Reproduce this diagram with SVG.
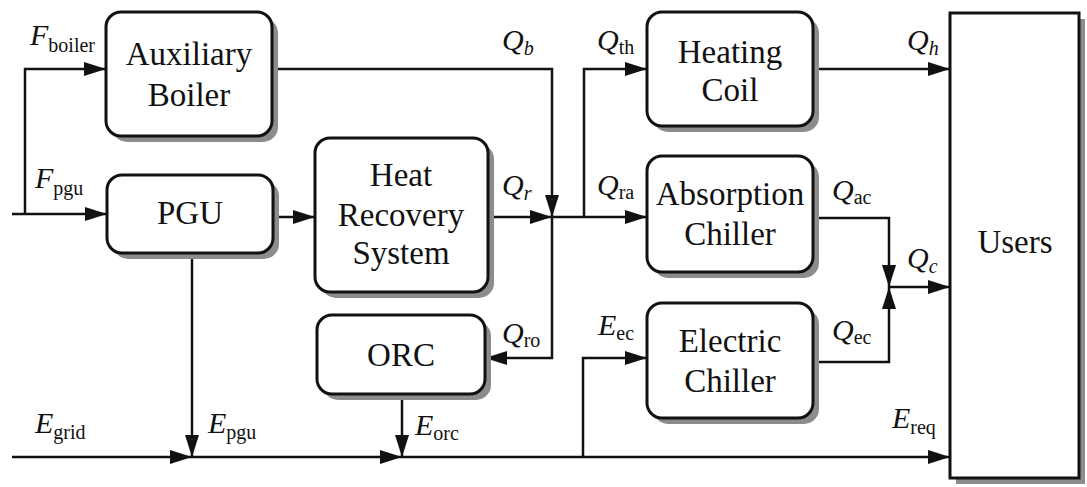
<svg xmlns="http://www.w3.org/2000/svg" width="1087" height="487" viewBox="0 0 1087 487">
<defs>
<marker id="ah" viewBox="0 0 22 14" refX="22" refY="7" markerWidth="22" markerHeight="14" markerUnits="userSpaceOnUse" orient="auto">
<path d="M0,0 L22,7 L0,14 Z" fill="#111"/>
</marker>
</defs>
<rect width="1087" height="487" fill="#fff"/>

<g id="connectors" fill="none" stroke="#111" stroke-width="2.5" marker-end="url(#ah)">
<path d="M12,214 H107"/>
<path d="M25,214 V69 H106"/>
<path d="M273,217 H315"/>
<path d="M272,69 H552 V217"/>
<path d="M488,217 H552"/>
<path d="M552,217 H647"/>
<path d="M584,217 V69 H647"/>
<path d="M552,217 V358 H485"/>
<path d="M813,69 H950"/>
<path d="M813,218 H889 V287"/>
<path d="M813,362 H889 V287"/>
<path d="M889,287 H950"/>
<path d="M192,253 V457"/>
<path d="M402,394 V457"/>
<path d="M12,457 H192"/>
<path d="M192,457 H402"/>
<path d="M402,457 H950"/>
<path d="M583,457 V358 H647"/>
</g>

<g id="boiler">
<rect fill="#8c8c8c" x="112" y="18" width="166" height="124" rx="15"/>
<rect fill="#fff" stroke="#111" stroke-width="3" x="106" y="12" width="166" height="124" rx="15"/>
<text x="189" y="65" style="font-family:'Liberation Serif','Times New Roman',serif;font-size:33px" text-anchor="middle" fill="#111">Auxiliary</text>
<text x="189" y="106" style="font-family:'Liberation Serif','Times New Roman',serif;font-size:33px" text-anchor="middle" fill="#111">Boiler</text>
</g>
<g id="pgu">
<rect fill="#8c8c8c" x="113" y="181" width="166" height="78" rx="15"/>
<rect fill="#fff" stroke="#111" stroke-width="3" x="107" y="175" width="166" height="78" rx="15"/>
<text x="190" y="224" style="font-family:'Liberation Serif','Times New Roman',serif;font-size:33px" text-anchor="middle" fill="#111">PGU</text>
</g>
<g id="hrs">
<rect fill="#8c8c8c" x="321" y="144" width="173" height="154" rx="15"/>
<rect fill="#fff" stroke="#111" stroke-width="3" x="315" y="138" width="173" height="154" rx="15"/>
<text x="401" y="186" style="font-family:'Liberation Serif','Times New Roman',serif;font-size:33px" text-anchor="middle" fill="#111">Heat</text>
<text x="401" y="226" style="font-family:'Liberation Serif','Times New Roman',serif;font-size:33px" text-anchor="middle" fill="#111">Recovery</text>
<text x="401" y="264" style="font-family:'Liberation Serif','Times New Roman',serif;font-size:33px" text-anchor="middle" fill="#111">System</text>
</g>
<g id="orc">
<rect fill="#8c8c8c" x="323" y="321" width="168" height="79" rx="15"/>
<rect fill="#fff" stroke="#111" stroke-width="3" x="317" y="315" width="168" height="79" rx="15"/>
<text x="401" y="366" style="font-family:'Liberation Serif','Times New Roman',serif;font-size:33px" text-anchor="middle" fill="#111">ORC</text>
</g>
<g id="heating">
<rect fill="#8c8c8c" x="653" y="18" width="166" height="114" rx="15"/>
<rect fill="#fff" stroke="#111" stroke-width="3" x="647" y="12" width="166" height="114" rx="15"/>
<text x="730" y="63" style="font-family:'Liberation Serif','Times New Roman',serif;font-size:33px" text-anchor="middle" fill="#111">Heating</text>
<text x="730" y="101" style="font-family:'Liberation Serif','Times New Roman',serif;font-size:33px" text-anchor="middle" fill="#111">Coil</text>
</g>
<g id="absorption">
<rect fill="#8c8c8c" x="653" y="162" width="166" height="116" rx="15"/>
<rect fill="#fff" stroke="#111" stroke-width="3" x="647" y="156" width="166" height="116" rx="15"/>
<text x="730" y="205" style="font-family:'Liberation Serif','Times New Roman',serif;font-size:33px" text-anchor="middle" fill="#111">Absorption</text>
<text x="730" y="245" style="font-family:'Liberation Serif','Times New Roman',serif;font-size:33px" text-anchor="middle" fill="#111">Chiller</text>
</g>
<g id="electric">
<rect fill="#8c8c8c" x="653" y="309" width="166" height="115" rx="15"/>
<rect fill="#fff" stroke="#111" stroke-width="3" x="647" y="303" width="166" height="115" rx="15"/>
<text x="730" y="352" style="font-family:'Liberation Serif','Times New Roman',serif;font-size:33px" text-anchor="middle" fill="#111">Electric</text>
<text x="730" y="392" style="font-family:'Liberation Serif','Times New Roman',serif;font-size:33px" text-anchor="middle" fill="#111">Chiller</text>
</g>
<g id="users">
<rect fill="#8c8c8c" x="956" y="19" width="129" height="465"/>
<rect fill="#fff" stroke="#111" stroke-width="3" x="950" y="13" width="129" height="465"/>
<text x="1015" y="253" style="font-family:'Liberation Serif','Times New Roman',serif;font-size:33px" text-anchor="middle" fill="#111">Users</text>
</g>

<g id="labels" fill="#111">
<text x="30" y="45" style="font-family:'Liberation Serif','Times New Roman',serif;font-size:30px;font-style:italic">F<tspan style="font-size:20px;font-style:normal" dy="7">boiler</tspan></text>
<text x="35" y="188" style="font-family:'Liberation Serif','Times New Roman',serif;font-size:30px;font-style:italic">F<tspan style="font-size:20px;font-style:normal" dy="7">pgu</tspan></text>
<text x="502" y="50" style="font-family:'Liberation Serif','Times New Roman',serif;font-size:30px;font-style:italic">Q<tspan style="font-size:20px" dy="5">b</tspan></text>
<text x="597" y="50" style="font-family:'Liberation Serif','Times New Roman',serif;font-size:30px;font-style:italic">Q<tspan style="font-size:20px;font-style:normal" dy="4">th</tspan></text>
<text x="502" y="195" style="font-family:'Liberation Serif','Times New Roman',serif;font-size:30px;font-style:italic">Q<tspan style="font-size:20px" dy="5">r</tspan></text>
<text x="597" y="195" style="font-family:'Liberation Serif','Times New Roman',serif;font-size:30px;font-style:italic">Q<tspan style="font-size:20px;font-style:normal" dy="4">ra</tspan></text>
<text x="907" y="50" style="font-family:'Liberation Serif','Times New Roman',serif;font-size:30px;font-style:italic">Q<tspan style="font-size:20px" dy="5">h</tspan></text>
<text x="832" y="200" style="font-family:'Liberation Serif','Times New Roman',serif;font-size:30px;font-style:italic">Q<tspan style="font-size:20px;font-style:normal" dy="4">ac</tspan></text>
<text x="907" y="268" style="font-family:'Liberation Serif','Times New Roman',serif;font-size:30px;font-style:italic">Q<tspan style="font-size:20px" dy="5">c</tspan></text>
<text x="832" y="340" style="font-family:'Liberation Serif','Times New Roman',serif;font-size:30px;font-style:italic">Q<tspan style="font-size:20px;font-style:normal" dy="4">ec</tspan></text>
<text x="502" y="343" style="font-family:'Liberation Serif','Times New Roman',serif;font-size:30px;font-style:italic">Q<tspan style="font-size:20px;font-style:normal" dy="4">ro</tspan></text>
<text x="598" y="335" style="font-family:'Liberation Serif','Times New Roman',serif;font-size:30px;font-style:italic">E<tspan style="font-size:20px;font-style:normal" dy="5">ec</tspan></text>
<text x="35" y="433" style="font-family:'Liberation Serif','Times New Roman',serif;font-size:30px;font-style:italic">E<tspan style="font-size:20px;font-style:normal" dy="6">grid</tspan></text>
<text x="208" y="433" style="font-family:'Liberation Serif','Times New Roman',serif;font-size:30px;font-style:italic">E<tspan style="font-size:20px;font-style:normal" dy="6">pgu</tspan></text>
<text x="415" y="435" style="font-family:'Liberation Serif','Times New Roman',serif;font-size:30px;font-style:italic">E<tspan style="font-size:20px;font-style:normal" dy="5">orc</tspan></text>
<text x="892" y="428" style="font-family:'Liberation Serif','Times New Roman',serif;font-size:30px;font-style:italic">E<tspan style="font-size:20px;font-style:normal" dy="6">req</tspan></text>
</g>
</svg>
